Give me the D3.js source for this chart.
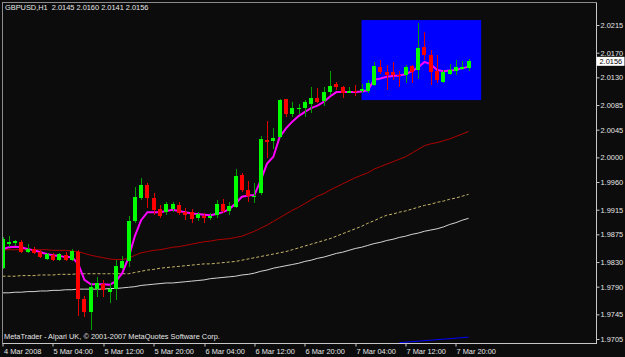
<!DOCTYPE html>
<html>
<head>
<meta charset="utf-8">
<script src="https://cdn.jsdelivr.net/npm/d3@7"></script>
<style>
html, body { margin: 0; padding: 0; background: #0c0c0c; overflow: hidden; }
svg { display: block; }
text { font-family: "Liberation Sans", Arial, sans-serif; font-size: 7.4px; fill: #e6e6e6; white-space: pre; }
</style>
</head>
<body>
<svg id="chart"></svg>
<script>
var symbolName = "GBPUSD,H1";

// GBPUSD H1 bars, oldest first
var open  = [1.9821,1.9859,1.9861,1.9863,1.9846,1.9851,1.9846,1.9835,1.9841,1.9834,1.9841,1.9833,1.9846,1.9770,1.9749,1.9787,1.9794,1.9782,1.9786,1.9820,
             1.9831,1.9896,1.9934,1.9955,1.9934,1.9916,1.9912,1.9916,1.9923,1.9912,1.9912,1.9901,1.9905,1.9901,1.9906,1.9924,1.9913,1.9919,1.9971,1.9947,
             1.9937,1.9942,2.0028,2.0027,2.0033,2.0094,2.0071,2.0078,2.0080,2.0087,2.0097,2.0092,2.0106,2.0119,2.0114,2.0104,2.0108,2.0107,2.0107,2.0118,
             2.0147,2.0139,2.0139,2.0134,2.0133,2.0148,2.0142,2.0180,2.0166,2.0140,2.0123,2.0136,2.0140,2.0144,2.0145];
var high  = [1.9871,1.9872,1.9866,1.9866,1.9859,1.9854,1.9850,1.9844,1.9844,1.9845,1.9847,1.9851,1.9850,1.9775,1.9796,1.9806,1.9801,1.9796,1.9833,1.9839,
             1.9904,1.9952,1.9966,1.9958,1.9942,1.9923,1.9928,1.9928,1.9928,1.9917,1.9916,1.9912,1.9910,1.9909,1.9931,1.9932,1.9928,1.9981,1.9975,1.9962,
             1.9958,2.0034,2.0059,2.0048,2.0094,2.0095,2.0090,2.0086,2.0093,2.0115,2.0112,2.0114,2.0140,2.0122,2.0116,2.0115,2.0118,2.0119,2.0126,2.0155,
             2.0158,2.0150,2.0155,2.0140,2.0150,2.0150,2.0218,2.0203,2.0175,2.0166,2.0142,2.0152,2.0158,2.0157,2.0160];
var low   = [1.9818,1.9855,1.9856,1.9845,1.9844,1.9843,1.9836,1.9834,1.9831,1.9832,1.9831,1.9832,1.9742,1.9741,1.9719,1.9774,1.9774,1.9763,1.9768,1.9817,
             1.9822,1.9893,1.9931,1.9917,1.9906,1.9901,1.9906,1.9912,1.9906,1.9898,1.9893,1.9896,1.9893,1.9898,1.9901,1.9909,1.9906,1.9918,1.9944,1.9928,
             1.9926,1.9939,1.9999,2.0013,2.0031,2.0065,2.0065,2.0071,2.0065,2.0072,2.0089,2.0083,2.0101,2.0109,2.0096,2.0104,2.0100,2.0104,2.0104,2.0116,
             2.0135,2.0109,2.0126,2.0115,2.0121,2.0121,2.0128,2.0158,2.0118,2.0121,2.0121,2.0134,2.0134,2.0142,2.0141];
var close = [1.9868,1.9863,1.9864,1.9847,1.9851,1.9845,1.9838,1.9843,1.9833,1.9843,1.9834,1.9848,1.9770,1.9749,1.9790,1.9796,1.9784,1.9787,1.9823,1.9831,
             1.9896,1.9936,1.9955,1.9934,1.9915,1.9905,1.9924,1.9925,1.9910,1.9906,1.9900,1.9908,1.9901,1.9905,1.9925,1.9913,1.9921,1.9970,1.9947,1.9938,
             1.9938,2.0030,2.0025,2.0031,2.0093,2.0071,2.0080,2.0080,2.0090,2.0096,2.0090,2.0106,2.0116,2.0115,2.0105,2.0107,2.0106,2.0111,2.0120,2.0148,
             2.0138,2.0134,2.0134,2.0132,2.0146,2.0139,2.0177,2.0167,2.0138,2.0125,2.0138,2.0142,2.0147,2.0146,2.0156];

// moving averages
var maMagenta = [1.9851,1.9854,1.9855,1.9854,1.9851,1.9849,1.9846,1.9843,1.9841,1.9840,1.9838,1.9838,1.9827,1.9801,1.9794,1.9794,1.9794,1.9793,1.9799,1.9812,
                 1.9837,1.9872,1.9898,1.9911,1.9911,1.9911,1.9913,1.9915,1.9913,1.9911,1.9909,1.9908,1.9907,1.9906,1.9908,1.9911,1.9916,1.9925,1.9936,1.9938,
                 1.9939,1.9963,1.9990,2.0001,2.0033,2.0047,2.0058,2.0067,2.0074,2.0080,2.0084,2.0090,2.0099,2.0106,2.0106,2.0106,2.0106,2.0107,2.0109,2.0126,
                 2.0128,2.0131,2.0132,2.0133,2.0135,2.0140,2.0146,2.0155,2.0151,2.0142,2.0140,2.0141,2.0142,2.0145,2.0147];
var maRed     = [1.9850,1.9850,1.9850,1.9850,1.9850,1.9850,1.9850,1.9850,1.9849,1.9849,1.9849,1.9848,1.9847,1.9844,1.9841,1.9839,1.9837,1.9835,1.9834,1.9834,
                 1.9836,1.9841,1.9845,1.9847,1.9849,1.9850,1.9852,1.9854,1.9855,1.9857,1.9859,1.9861,1.9863,1.9864,1.9866,1.9867,1.9868,1.9870,1.9872,1.9876,
                 1.9880,1.9885,1.9890,1.9896,1.9902,1.9908,1.9914,1.9919,1.9925,1.9931,1.9937,1.9941,1.9947,1.9952,1.9957,1.9962,1.9967,1.9971,1.9975,1.9981,
                 1.9985,1.9989,1.9993,1.9997,2.0001,2.0007,2.0013,2.0019,2.0022,2.0024,2.0027,2.0030,2.0034,2.0038,2.0042];
var maDashed  = [1.9807,1.9807,1.9807,1.9808,1.9808,1.9808,1.9809,1.9809,1.9809,1.9810,1.9810,1.9810,1.9811,1.9811,1.9811,1.9811,1.9811,1.9811,1.9811,1.9811,
                 1.9811,1.9813,1.9815,1.9817,1.9818,1.9820,1.9821,1.9822,1.9823,1.9824,1.9825,1.9826,1.9827,1.9827,1.9828,1.9829,1.9830,1.9831,1.9833,1.9835,
                 1.9837,1.9839,1.9841,1.9843,1.9845,1.9847,1.9850,1.9853,1.9856,1.9859,1.9862,1.9865,1.9868,1.9872,1.9876,1.9880,1.9884,1.9888,1.9893,1.9897,
                 1.9902,1.9906,1.9908,1.9911,1.9913,1.9916,1.9919,1.9922,1.9924,1.9927,1.9929,1.9932,1.9934,1.9937,1.9940];
var maGrey    = [1.9780,1.9780,1.9781,1.9781,1.9782,1.9782,1.9783,1.9783,1.9784,1.9784,1.9785,1.9785,1.9786,1.9786,1.9786,1.9786,1.9786,1.9787,1.9787,1.9788,
                 1.9789,1.9790,1.9792,1.9793,1.9794,1.9795,1.9796,1.9796,1.9797,1.9798,1.9799,1.9800,1.9801,1.9803,1.9804,1.9805,1.9806,1.9807,1.9809,1.9810,
                 1.9812,1.9815,1.9817,1.9820,1.9822,1.9824,1.9826,1.9828,1.9831,1.9833,1.9836,1.9838,1.9841,1.9844,1.9846,1.9849,1.9852,1.9854,1.9857,1.9860,
                 1.9862,1.9865,1.9867,1.9870,1.9872,1.9875,1.9877,1.9880,1.9882,1.9884,1.9887,1.9891,1.9894,1.9898,1.9901];

var priceTicks = [2.0215,2.0170,2.0130,2.0085,2.0045,2.0000,1.9960,1.9915,1.9875,1.9830,1.9790,1.9745,1.9705];
var timeTickBars = [0,8,16,24,32,40,48,56,64,72];
var timeTickLabels = ["4 Mar 2008","5 Mar 04:00","5 Mar 12:00","5 Mar 20:00","6 Mar 04:00","6 Mar 12:00","6 Mar 20:00","7 Mar 04:00","7 Mar 12:00","7 Mar 20:00"];

// chart objects: rectangle and trend line (bar index, price)
var boxBars = [57,76], boxPrices = [2.0093,2.0223];
var lineBars = [63,74], linePrices = [1.9699,1.9708];

var W = 625, H = 357;
var L = 2.5, T = 2.5, R = 596.5, B = 343.5;

var svg = d3.select("#chart").attr("width", W).attr("height", H);
svg.append("rect").attr("width", W).attr("height", H).attr("fill", "#0c0c0c");

var x = d3.scaleLinear().domain([0, 74]).range([2.6, 2.6 + 6.297*74]);
var y = d3.scaleLinear().domain([1.9705, 2.0215]).range([339, 25]);

svg.append("clipPath").attr("id", "clip")
    .append("rect").attr("x", 3).attr("y", 3).attr("width", R-3).attr("height", B-3);
var plot = svg.append("g").attr("clip-path", "url(#clip)");

// blue rectangle object
plot.append("rect")
    .attr("x", x(boxBars[0])).attr("width", x(boxBars[1]) - x(boxBars[0]))
    .attr("y", y(boxPrices[1])).attr("height", y(boxPrices[0]) - y(boxPrices[1]))
    .attr("fill", "#0000ff");

// trend line near the bottom
plot.append("line")
    .attr("x1", x(lineBars[0])).attr("y1", y(linePrices[0]))
    .attr("x2", x(lineBars[1])).attr("y2", y(linePrices[1]))
    .attr("stroke", "#0000ff").attr("stroke-width", 1);

// moving averages
function drawMA(vals, color, width, dash){
    var line = d3.line().x(function(d,i){return x(i);}).y(function(d){return y(d);});
    plot.append("path").datum(vals)
	.attr("d", line)
	.attr("fill", "none")
	.attr("stroke", color)
	.attr("stroke-width", width)
	.attr("stroke-dasharray", dash || null);
}
drawMA(maGrey, "#d4d4d4", 1);
drawMA(maDashed, "#c8b66a", 1, "3,2");
drawMA(maRed, "#b00000", 1);
drawMA(maMagenta, "#ff00ff", 2);

// candles
var bars = open.map(function(o,i){ return {i:i, o:o, h:high[i], l:low[i], c:close[i]}; });
var cg = plot.append("g").attr("shape-rendering", "crispEdges");
cg.selectAll("line").data(bars).join("line")
    .attr("x1", function(d){return Math.round(x(d.i))+0.5;})
    .attr("x2", function(d){return Math.round(x(d.i))+0.5;})
    .attr("y1", function(d){return y(d.h);})
    .attr("y2", function(d){return y(d.l);})
    .attr("stroke", function(d){return d.c>=d.o ? "#00a000" : "#e00000";});
cg.selectAll("rect").data(bars).join("rect")
    .attr("x", function(d){return Math.round(x(d.i))-2;})
    .attr("width", 4)
    .attr("y", function(d){return y(Math.max(d.o,d.c));})
    .attr("height", function(d){return Math.max(1, y(Math.min(d.o,d.c)) - y(Math.max(d.o,d.c)));})
    .attr("fill", function(d){return d.c>=d.o ? "#00ff00" : "#ff0000";});

// frame
svg.append("path")
    .attr("d", "M"+L+","+B+"V"+T+"H"+R)
    .attr("fill", "none").attr("stroke", "#8c8c8c").attr("shape-rendering", "crispEdges");
svg.append("path")
    .attr("d", "M"+L+","+B+"H"+R+"V"+T)
    .attr("fill", "none").attr("stroke", "#c8c8c8").attr("shape-rendering", "crispEdges");

// price axis
var yAxis = svg.append("g").attr("transform", "translate(" + R + ",0)")
    .call(d3.axisRight(y).tickValues(priceTicks).tickFormat(d3.format(".4f")).tickSize(3).tickPadding(1));
yAxis.select(".domain").remove();
yAxis.selectAll("line").attr("stroke", "#c8c8c8");
yAxis.selectAll("text").attr("fill", "#e6e6e6").style("font-size", "7.4px")
    .style("font-family", '"Liberation Sans", Arial, sans-serif');

// time axis
var xAxis = svg.append("g").attr("transform", "translate(0," + B + ")")
    .call(d3.axisBottom(x).tickValues(timeTickBars)
	  .tickFormat(function(d,i){return timeTickLabels[i];}).tickSize(3).tickPadding(2));
xAxis.select(".domain").remove();
xAxis.selectAll("line").attr("stroke", "#c8c8c8")
    .attr("transform", function(d){return "translate(" + (Math.max(L, Math.floor(x(d))+0.5) - x(d)) + ",0)";});
xAxis.selectAll("text")
    .attr("text-anchor", "start")
    .attr("x", function(d){return Math.max(L, Math.floor(x(d))) - x(d) + 1;})
    .attr("fill", "#e6e6e6").style("font-size", "7.4px")
    .style("font-family", '"Liberation Sans", Arial, sans-serif');

// current price label
var last = close[close.length-1];
svg.append("rect").attr("x", R).attr("y", y(last)-4.5).attr("width", 28).attr("height", 9)
    .attr("fill", "#ffffff");
svg.append("text").attr("x", R+3).attr("y", y(last)+2.6)
    .style("fill", "#000").text(d3.format(".4f")(last));

// header and footer text
var lastOHLC = [open, high, low, close].map(function(a){return d3.format(".4f")(a[a.length-1]);});
svg.append("text").attr("x", 5).attr("y", 10)
    .text(symbolName + "  " + lastOHLC.join(" "));
svg.append("text").attr("x", 4).attr("y", 339)
    .text("MetaTrader - Alpari UK, \u00a9 2001-2007 MetaQuotes Software Corp.");
</script>
</body>
</html>
